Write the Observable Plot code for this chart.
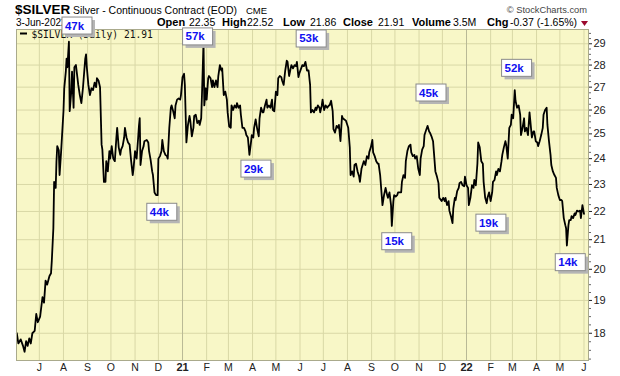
<!DOCTYPE html>
<html><head><meta charset="utf-8">
<script src="https://cdn.jsdelivr.net/npm/d3@7"></script>
<script src="https://cdn.jsdelivr.net/npm/@observablehq/plot@0.6"></script>
<style>html,body{margin:0;padding:0;background:#fff;} svg{display:block}</style>
</head><body><div id="chart"></div>
<script>
// Daily close of $SILVER, [month-day, close]
const seg2020 = [["06-02",18.0],["06-04",17.7],["06-07",17.82],["06-10",17.63],["06-12",17.46],["06-14",17.77],["06-16",17.63],["06-18",17.85],["06-20",17.7],["06-22",18.0],["06-25",18.07],["06-27",18.58],["06-29",18.33],
["07-02",18.5],["07-05",19.1],["07-07",18.93],["07-09",19.63],["07-11",19.5],["07-14",19.78],["07-16",19.87],["07-17",20.28],["07-19",21.4],["07-20",23.1],["07-21",22.97],["07-22",22.87],["07-23",23.9],["07-24",24.5],["07-26",24.33],["07-27",23.36],["07-29",24.3],
["08-01",25.95],["08-02",26.95],["08-04",27.7],["08-05",28.3],["08-06",27.9],["08-08",29.1],["08-09",25.95],["08-11",26.8],["08-12",27.7],["08-14",26.1],["08-15",27.9],["08-17",28.0],["08-19",27.4],["08-20",27.1],["08-22",26.65],["08-24",26.3],["08-26",26.95],["08-27",27.4],["08-29",28.3],["08-30",28.5],["08-31",27.9],
["09-02",27.1],["09-04",26.65],["09-06",26.95],["09-08",26.87],["09-10",27.2],["09-12",27.0],["09-13",27.4],["09-15",27.3],["09-17",27.0],["09-19",24.56],["09-20",24.36],["09-22",23.1],["09-24",23.1],["09-25",23.9],["09-27",23.5],["09-29",24.3],["09-30",24.0],
["10-02",24.5],["10-04",24.0],["10-06",23.9],["10-08",24.85],["10-09",25.25],["10-11",24.45],["10-13",24.15],["10-14",24.36],["10-16",24.5],["10-18",24.85],["10-19",25.25],["10-21",24.85],["10-23",24.65],["10-25",24.56],["10-27",23.9],["10-29",23.36],["10-30",23.6],
["11-01",24.3],["11-03",24.0],["11-05",24.85],["11-06",25.33],["11-07",25.66],["11-08",23.75],["11-10",24.3],["11-12",24.5],["11-13",24.7],["11-16",24.75],["11-18",24.65],["11-19",24.3],["11-21",23.95],["11-23",23.5],["11-24",23.36],["11-26",22.7],["11-28",22.6],["11-30",22.6],
["12-01",24.0],["12-03",24.1],["12-05",24.3],["12-06",24.75],["12-08",24.3],["12-10",24.15],["12-12",24.1],["12-13",24.0],["12-15",25.25],["12-17",26.1],["12-18",26.2],["12-20",25.95],["12-22",25.65],["12-23",26.2],["12-25",26.45],["12-27",26.5],["12-29",26.45],["12-30",26.65]];

const seg2021 = [["01-01",27.45],["01-03",27.6],["01-04",27.1],["01-06",24.65],["01-08",25.37],["01-10",25.75],["01-11",25.55],["01-13",24.9],["01-15",25.25],["01-16",25.75],["01-18",25.8],["01-20",25.45],["01-22",25.55],["01-23",25.37],["01-25",25.65],["01-26",26.65],["01-28",29.1],["01-29",26.2],["01-31",26.95],
["02-01",26.45],["02-03",27.4],["02-04",27.5],["02-06",27.4],["02-08",27.0],["02-09",27.3],["02-11",27.0],["02-13",27.3],["02-15",27.0],["02-16",27.5],["02-18",28.0],["02-20",27.75],["02-21",27.85],["02-23",26.65],["02-25",26.8],["02-27",26.45],["02-28",25.9],
["03-02",25.3],["03-04",25.25],["03-05",26.2],["03-07",26.0],["03-09",26.2],["03-11",26.1],["03-12",26.3],["03-14",26.1],["03-16",26.2],["03-17",25.8],["03-19",25.25],["03-21",25.25],["03-23",25.1],["03-24",24.95],["03-26",24.85],["03-28",24.15],["03-30",24.65],["03-31",24.95],
["04-02",24.85],["04-03",25.25],["04-05",25.6],["04-07",25.2],["04-09",24.9],["04-10",25.65],["04-12",26.1],["04-14",25.9],["04-15",25.9],["04-17",26.2],["04-19",26.45],["04-20",26.1],["04-22",26.2],["04-24",26.1],["04-26",26.45],["04-27",26.0],["04-29",25.95],
["05-01",26.8],["05-03",26.65],["05-04",27.4],["05-06",27.5],["05-08",27.45],["05-09",27.3],["05-11",27.1],["05-13",27.75],["05-15",28.2],["05-16",28.15],["05-18",27.5],["05-20",27.85],["05-21",28.0],["05-23",27.85],["05-25",28.0],["05-27",27.95],["05-28",28.15],["05-30",27.45],["05-31",27.6],
["06-04",28.0],["06-06",27.95],["06-08",28.15],["06-10",27.75],["06-12",27.75],["06-14",27.1],["06-15",25.9],["06-17",26.0],["06-19",25.9],["06-21",26.1],["06-22",26.0],["06-24",26.2],["06-26",26.1],["06-27",25.9],["06-29",26.2],["06-30",26.45],
["07-02",26.0],["07-04",26.2],["07-06",26.1],["07-08",26.2],["07-09",26.2],["07-11",26.4],["07-13",25.95],["07-14",25.2],["07-16",25.05],["07-18",25.33],["07-20",25.25],["07-21",25.37],["07-23",24.7],["07-25",25.75],["07-26",25.65],["07-28",25.6],["07-30",25.55],["07-31",25.45],
["08-02",25.25],["08-04",24.45],["08-05",23.36],["08-07",23.5],["08-09",23.3],["08-10",23.75],["08-12",23.8],["08-14",23.5],["08-16",23.3],["08-17",23.1],["08-19",23.6],["08-21",23.8],["08-22",23.9],["08-24",23.75],["08-26",24.1],["08-28",24.0],["08-29",24.25],["08-31",24.45],
["09-02",24.75],["09-03",24.25],["09-05",24.1],["09-07",23.9],["09-09",23.8],["09-10",23.8],["09-12",23.36],["09-14",22.6],["09-15",22.23],["09-17",22.6],["09-19",22.87],["09-21",22.6],["09-22",22.5],["09-24",22.7],["09-26",22.23],["09-27",21.48],["09-29",22.38],["09-30",22.6],
["10-02",22.55],["10-04",22.6],["10-05",22.7],["10-07",22.7],["10-09",22.7],["10-10",23.1],["10-12",23.36],["10-14",23.25],["10-15",23.9],["10-17",24.3],["10-19",24.5],["10-21",24.56],["10-22",24.25],["10-24",24.1],["10-26",24.15],["10-27",24.0],["10-29",24.1],["10-31",23.6],
["11-02",23.36],["11-03",24.0],["11-05",24.36],["11-07",24.5],["11-08",24.95],["11-10",25.15],["11-12",25.33],["11-14",25.1],["11-15",25.05],["11-17",24.9],["11-19",24.7],["11-20",24.3],["11-22",23.5],["11-24",23.3],["11-26",23.05],["11-27",22.5],["11-30",22.38],
["12-02",22.5],["12-04",22.38],["12-05",22.5],["12-07",22.23],["12-09",22.38],["12-10",22.03],["12-12",21.83],["12-14",21.58],["12-15",22.1],["12-17",22.5],["12-18",22.42],["12-20",22.75],["12-22",22.87],["12-23",23.05],["12-25",23.1],["12-27",22.97],["12-29",22.93],["12-30",23.3]];

const seg2022 = [["01-01",22.97],["01-03",22.87],["01-04",22.23],["01-06",22.5],["01-08",22.97],["01-10",22.87],["01-11",23.17],["01-13",22.97],["01-15",23.8],["01-16",24.65],["01-18",24.45],["01-20",23.9],["01-22",23.8],["01-23",23.1],["01-25",22.5],["01-27",22.3],["01-28",22.5],["01-30",22.7],
["02-01",22.38],["02-03",22.7],["02-04",23.1],["02-06",23.17],["02-08",23.5],["02-09",23.36],["02-11",23.6],["02-13",23.5],["02-15",23.9],["02-16",24.15],["02-18",24.45],["02-20",24.7],["02-21",24.56],["02-23",24.0],["02-25",25.25],["02-27",25.37],["02-28",25.8],
["03-02",25.65],["03-04",26.87],["03-05",26.4],["03-07",26.1],["03-09",26.2],["03-11",25.8],["03-12",24.95],["03-14",25.25],["03-16",25.65],["03-17",25.1],["03-19",25.25],["03-21",24.95],["03-23",25.9],["03-24",25.55],["03-26",24.85],["03-28",25.1],["03-29",25.1],["03-31",24.7],
["04-02",24.65],["04-03",24.5],["04-05",24.7],["04-07",24.95],["04-09",25.25],["04-10",25.8],["04-12",26.0],["04-14",26.1],["04-15",25.37],["04-17",24.7],["04-19",24.15],["04-20",23.75],["04-22",23.5],["04-24",23.36],["04-26",23.25],["04-27",22.87],["04-29",22.6],
["05-01",22.42],["05-03",22.42],["05-04",22.38],["05-06",21.76],["05-08",21.51],["05-09",21.4],["05-10",20.8],["05-12",21.51],["05-13",21.69],["05-15",21.69],["05-16",21.83],["05-18",21.76],["05-20",21.93],["05-21",21.87],["05-23",22.03],["05-25",22.0],["05-27",22.03],["05-28",21.76],["05-30",22.23],["06-01",21.91]];

// Axis ticks and labels
const yTicks = [18,19,20,21,22,23,24,25,26,27,28,29];
const monthLetters = ["J","F","M","A","M","J","J","A","S","O","N","D"];

// Volume annotation boxes (centre of the box in date / price terms)
const volLabels = [
  {date:"2020-08-19", price:29.86, text:"47k"},
  {date:"2020-12-06", price:21.97, text:"44k"},
  {date:"2021-01-21", price:29.33, text:"57k"},
  {date:"2021-04-06", price:23.59, text:"29k"},
  {date:"2021-06-16", price:29.23, text:"53k"},
  {date:"2021-10-04", price:20.93, text:"15k"},
  {date:"2021-11-17", price:26.74, text:"45k"},
  {date:"2022-02-02", price:21.58, text:"19k"},
  {date:"2022-03-07", price:27.85, text:"52k"},
  {date:"2022-05-15", price:20.22, text:"14k"}
];

// Header quote
const headerDate = "3-Jun-2022";
const quoteItems = [["Open","22.35"],["High","22.52"],["Low","21.86"],["Close","21.91"],["Volume","3.5M"],["Chg","-0.37 (-1.65%)"]];
const lastClose = "21.91";

const toRows = (seg, yr) => seg.map(([d, v]) => ({date: new Date(`${yr}-${d}T00:00:00Z`), close: v}));
const data = [...toRows(seg2020, 2020), ...toRows(seg2021, 2021), ...toRows(seg2022, 2022)];

const monthTicks = d3.utcMonth.range(new Date(Date.UTC(2020, 6, 1)), new Date(Date.UTC(2022, 5, 2)));
const yearTicks = monthTicks.filter(d => d.getUTCMonth() === 0);
const otherMonths = monthTicks.filter(d => d.getUTCMonth() !== 0);
const minorTicks = d3.range(17.25, 29.7, 0.25).filter(v => !Number.isInteger(v));

const BG = "#f8f7c7", GRID = "#d9d8a6", YEAR = "#b9b996", FRAME = "#aaaa8c";

const plot = Plot.plot({
  width: 620, height: 376,
  marginLeft: 16, marginRight: 32, marginTop: 29, marginBottom: 16,
  style: {background: "#fff", fontFamily: "'Liberation Sans', Arial, sans-serif", overflow: "visible"},
  x: {type: "utc", domain: [new Date("2020-06-01T15:00:00Z"), new Date("2022-06-06T19:00:00Z")], axis: null},
  y: {type: "log", domain: [17.21, 29.69], axis: null},
  marks: [
    Plot.frame({fill: BG, stroke: null}),
    Plot.ruleX(otherMonths, {x: d => d, stroke: GRID, strokeWidth: 1}),
    Plot.ruleY(yTicks, {y: d => d, stroke: GRID, strokeWidth: 1}),
    Plot.ruleX(yearTicks, {x: d => d, stroke: YEAR, strokeWidth: 1}),
    Plot.line(data, {x: "date", y: "close", stroke: "#000", strokeWidth: 1.8, strokeLinejoin: "round"}),
    Plot.frame({stroke: FRAME}),
    Plot.axisY({anchor: "right", ticks: yTicks, tickSize: 3, tickPadding: 2, tickFormat: d => String(d), fontSize: 11, color: "#222", label: null}),
    Plot.axisY({anchor: "right", ticks: minorTicks, tickSize: 2, tickFormat: () => "", label: null, color: "#666"}),
    Plot.text(otherMonths, {x: d => d, text: d => monthLetters[d.getUTCMonth()], frameAnchor: "bottom", dy: 7, fontSize: 10.5, fill: "#222", lineAnchor: "middle"}),
    Plot.text(yearTicks, {x: d => d, text: d => String(d.getUTCFullYear() % 100), frameAnchor: "bottom", dy: 7, fontSize: 11, fontWeight: "bold", fill: "#222", lineAnchor: "middle"})
  ]
});
document.getElementById("chart").appendChild(plot);

const svg = d3.select(plot);
const sx = plot.scale("x"), sy = plot.scale("y");

// Legend inside plot
svg.append("line").attr("x1", 20).attr("x2", 27).attr("y1", 33.5).attr("y2", 33.5).attr("stroke", "#000").attr("stroke-width", 2);
svg.append("text").attr("x", 31.5).attr("y", 37.5).attr("text-anchor", "start").attr("font-family", "'DejaVu Sans Mono', monospace").attr("font-size", 9.6).attr("fill", "#111")
  .text(`$SILVER (Daily) ${lastClose}`);

// Header
const hdr = svg.append("g").attr("font-family", "'Liberation Sans', Arial, sans-serif").attr("text-anchor", "start");
hdr.append("text").attr("x", 15).attr("y", 14).attr("font-size", 13.5).attr("font-weight", "bold").attr("fill", "#000").text("$SILVER");
hdr.append("text").attr("x", 73).attr("y", 14).attr("font-size", 10.5).attr("fill", "#000").text("Silver - Continuous Contract (EOD)");
hdr.append("text").attr("x", 246).attr("y", 14).attr("font-size", 9.5).attr("fill", "#000").text("CME");
hdr.append("text").attr("x", 587).attr("y", 12.5).attr("font-size", 9.3).attr("fill", "#444").attr("text-anchor", "end").text("\u00A9 StockCharts.com");
hdr.append("text").attr("x", 16).attr("y", 26).attr("font-size", 10).attr("fill", "#000").text(headerDate);
const qx = [157, 222, 283, 343, 412, 487];
const vx = [189, 247, 310, 378, 453, 510];
quoteItems.forEach(([k, v], i) => {
  hdr.append("text").attr("x", qx[i]).attr("y", 26).attr("font-size", 11).attr("font-weight", "bold").attr("fill", "#000").text(k);
  hdr.append("text").attr("x", vx[i]).attr("y", 26).attr("font-size", 10.5).attr("fill", "#000").text(v);
});
hdr.append("path").attr("d", "M581,21 L588,21 L584.5,26 Z").attr("fill", "#9b0a2e");

// Volume boxes
const vg = svg.append("g").attr("font-family", "'Liberation Sans', Arial, sans-serif").attr("text-anchor", "start");
for (const L of volLabels) {
  const cx = sx.apply(new Date(L.date + "T00:00:00Z")), cy = sy.apply(L.price);
  vg.append("rect").attr("x", cx - 15 + 3).attr("y", cy - 8.5 + 3).attr("width", 30).attr("height", 17).attr("fill", "#b5b5b5");
  vg.append("rect").attr("x", cx - 15).attr("y", cy - 8.5).attr("width", 30).attr("height", 17).attr("fill", "#fff").attr("stroke", "#8a8a8a");
  vg.append("text").attr("x", cx - 12).attr("y", cy + 4).attr("font-size", 11.5).attr("font-weight", "bold").attr("fill", "#1010f0").text(L.text);
}
</script>
</body></html>
